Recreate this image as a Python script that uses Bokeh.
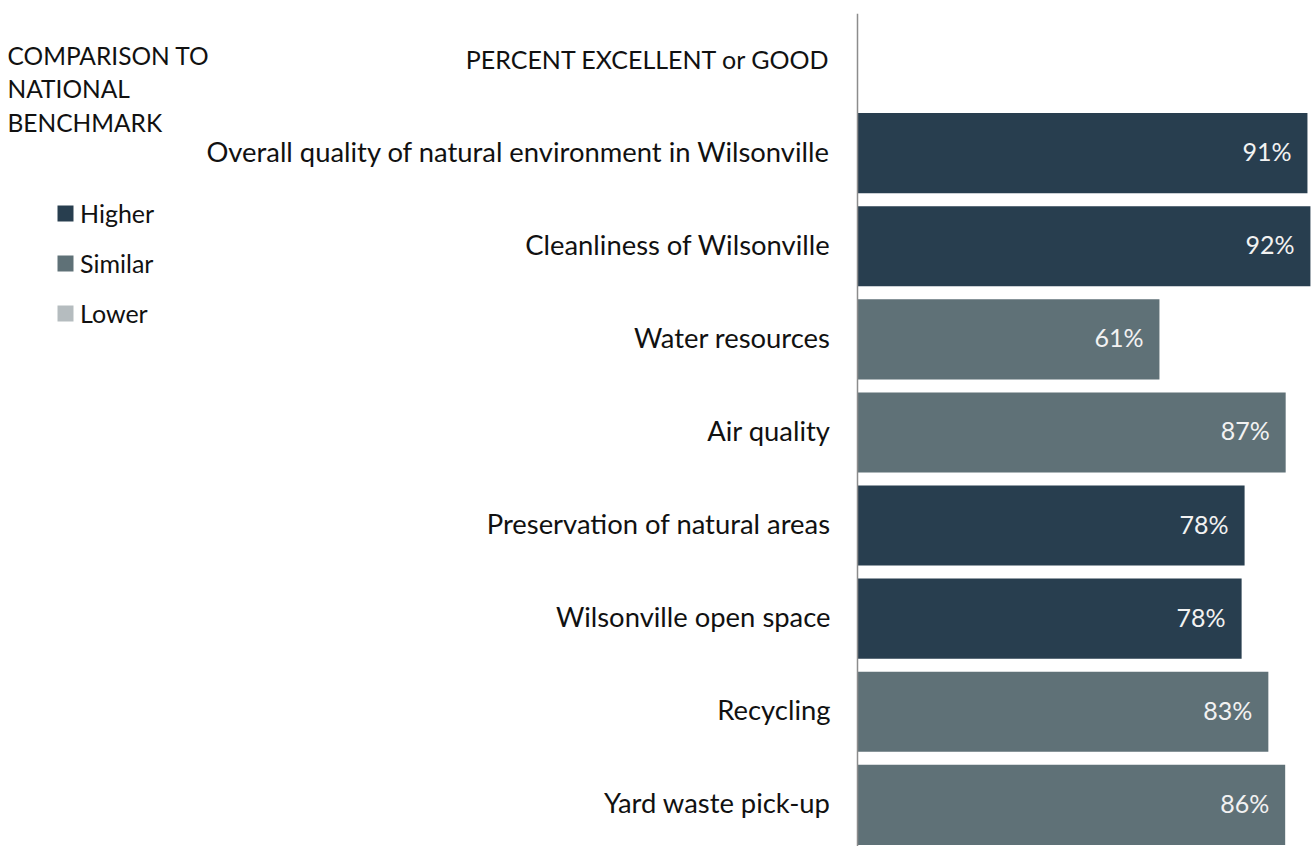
import numpy as np
from bokeh.plotting import figure
from bokeh.models import ColumnDataSource, Range1d, Legend, LegendItem, Label, Span
from bokeh.core.properties import value
from bokeh.embed import file_html
from bokeh.resources import INLINE

# ---- data ----
header = "PERCENT EXCELLENT or GOOD"
categories = [
    "Overall quality of natural environment in Wilsonville",
    "Cleanliness of Wilsonville",
    "Water resources",
    "Air quality",
    "Preservation of natural areas",
    "Wilsonville open space",
    "Recycling",
    "Yard waste pick-up",
]
percent = [90.9, 91.5, 61.0, 86.5, 78.2, 77.6, 83.0, 86.4]
benchmark = ["Higher", "Higher", "Similar", "Similar", "Higher", "Higher", "Similar", "Similar"]
legend_levels = ["Higher", "Similar", "Lower"]
legend_title_lines = ["COMPARISON TO", "NATIONAL", "BENCHMARK"]

# ---- styles ----
colors = {"Higher": "#283E4F", "Similar": "#5F7177", "Lower": "#B5BCBF"}
FONT = "Lato"
TEXT_COLOR = "#111111"
W, H = 1312, 846
AXIS_X = 857          # pixel position of the zero line
PX_PER_PCT = 4.95
TOP = 13
ROW_PX = 93.1

rows = list(range(1, len(categories) + 1))
labels = [f"{int(v + 0.5)}%" for v in percent]

x0 = -AXIS_X / PX_PER_PCT
x1 = (W - AXIS_X) / PX_PER_PCT
y_bottom = -0.5 + (H - TOP) / ROW_PX

p = figure(width=W, height=H, output_backend="svg", toolbar_location=None,
           x_axis_location=None, y_axis_location=None,
           x_range=Range1d(x0, x1), y_range=Range1d(y_bottom, -0.5),
           min_border_left=0, min_border_right=0, min_border_top=TOP, min_border_bottom=0)
p.outline_line_color = None
p.xgrid.visible = False
p.ygrid.visible = False

legend_items = []
for lvl in legend_levels:
    idx = [i for i, b in enumerate(benchmark) if b == lvl]
    if idx:
        ys = np.array([rows[i] for i in idx], dtype=float)
        rs = np.array([percent[i] for i in idx], dtype=float)
        ls = [labels[i] for i in idx]
    else:
        # no bar in this class: a single undrawn (NaN) entry keeps its legend swatch
        ys = np.array([np.nan])
        rs = np.array([np.nan])
        ls = [""]
    src = ColumnDataSource(dict(y=ys, right=rs, label=ls))
    r = p.hbar(y="y", right="right", left=0, height=0.86, source=src,
               fill_color=colors[lvl], line_color=None)
    legend_items.append(LegendItem(label=lvl, renderers=[r]))
    p.text(x="right", y="y", text="label", source=src, x_offset=-16, y_offset=-2,
           text_align="right", text_baseline="middle", text_color="#F2F2F2",
           text_font=value(FONT), text_font_size="25px")

# zero line (vertical axis line)
p.add_layout(Span(location=0, dimension="height", line_color="#8C8C8C", line_width=1.5))

# category labels
cat_src = ColumnDataSource(dict(x=[0] * len(rows), y=rows, text=categories))
p.text(x="x", y="y", text="text", source=cat_src, x_offset=-27, y_offset=-2,
       text_align="right", text_baseline="middle", text_color=TEXT_COLOR,
       text_font=value(FONT), text_font_size="27.4px")
hdr_src = ColumnDataSource(dict(x=[0], y=[0], text=[header]))
p.text(x="x", y="y", text="text", source=hdr_src, x_offset=-27, y_offset=-1,
       text_align="right", text_baseline="middle", text_color=TEXT_COLOR,
       text_font=value(FONT), text_font_size="25px")

legend = Legend(items=legend_items, location=(55, H - 328), orientation="vertical",
                glyph_width=20, glyph_height=20, label_height=20, spacing=20,
                label_standoff=5, padding=0, margin=0,
                border_line_color=None, background_fill_alpha=0,
                label_text_font=FONT, label_text_font_size="25px",
                label_text_color=TEXT_COLOR)
p.add_layout(legend, "center")

for line, py in zip(legend_title_lines, [55, 88, 122]):
    p.add_layout(Label(x=7, y=H - py, x_units="screen", y_units="screen", text=line,
                       text_font=FONT, text_font_size="24.5px", text_color=TEXT_COLOR,
                       text_baseline="middle", text_align="left"))

open("out.html", "w").write(file_html(p, INLINE))
